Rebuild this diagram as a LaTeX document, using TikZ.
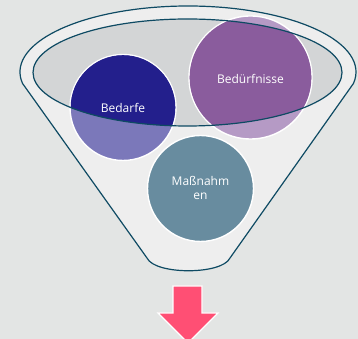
\documentclass[tikz,border=0pt]{standalone}
\usepackage{fontspec}
\setmainfont{Open Sans}
\definecolor{bg}{HTML}{E3E5E4}
\definecolor{funnel}{HTML}{EEEEEE}
\definecolor{rim}{HTML}{D3D5D6}
\definecolor{edge}{HTML}{0E4A63}
\definecolor{navyD}{HTML}{231F8C}
\definecolor{navyL}{HTML}{7B78BA}
\definecolor{purpD}{HTML}{8A5C9D}
\definecolor{purpL}{HTML}{B59AC5}
\definecolor{teal}{HTML}{688C9F}
\definecolor{pink}{HTML}{FF4F74}
\tikzset{
  bubble/.style={circle, draw=white, line width=1.4pt, inner sep=0pt},
  label/.style={text=white, font=\fontsize{12}{14}\selectfont, align=center}
}
\begin{document}
\begin{tikzpicture}[x=1pt,y=1pt]
\useasboundingbox (0,0) rectangle (358,339);
\fill[bg] (0,0) rectangle (358,339);
% funnel body
\draw[edge, line width=1.2pt, fill=funnel]
  (188,267) ++(190:168 and 66) coordinate (fl)
  arc[start angle=190, end angle=-10, x radius=168, y radius=66] coordinate (fr)
  -- (230,81) .. controls (222,64) and (155,64) .. (147,81) -- cycle;
% inner rim fill
\fill[rim] (187.5,266.5) ellipse[x radius=154.5, y radius=53.5];
% circles (light parts)
\node[bubble, fill=navyL, minimum size=106pt] (bedarfe) at (123,231.5) {};
\node[bubble, fill=purpL, minimum size=123pt] (beduerf) at (250.5,261.5) {};
\node[bubble, fill=teal, minimum size=106pt] (massn) at (200.5,150.5) {};
% dark parts inside rim
\begin{scope}
  \clip (187.5,266.5) ellipse[x radius=154.5, y radius=53.5];
  \fill[navyD] (bedarfe.center) circle[radius=52.3];
  \fill[purpD] (beduerf.center) circle[radius=60.8];
\end{scope}
% rim outline
\draw[edge, line width=1.2pt] (187.5,266.5) ellipse[x radius=154.5, y radius=53.5];
% labels
\node[label] at (123,231) {Bedarfe};
\node[label] at (250.5,260) {Bedürfnisse};
\node[label] at (200.5,151) {Maßnahm\\en};
% arrow
\draw[white, line width=1.2pt, fill=pink, line join=miter]
  (173,53) -- (202,53) -- (202,26) -- (218,26) -- (188,-4) -- (158,26) -- (173,26) -- cycle;
\end{tikzpicture}
\end{document}
